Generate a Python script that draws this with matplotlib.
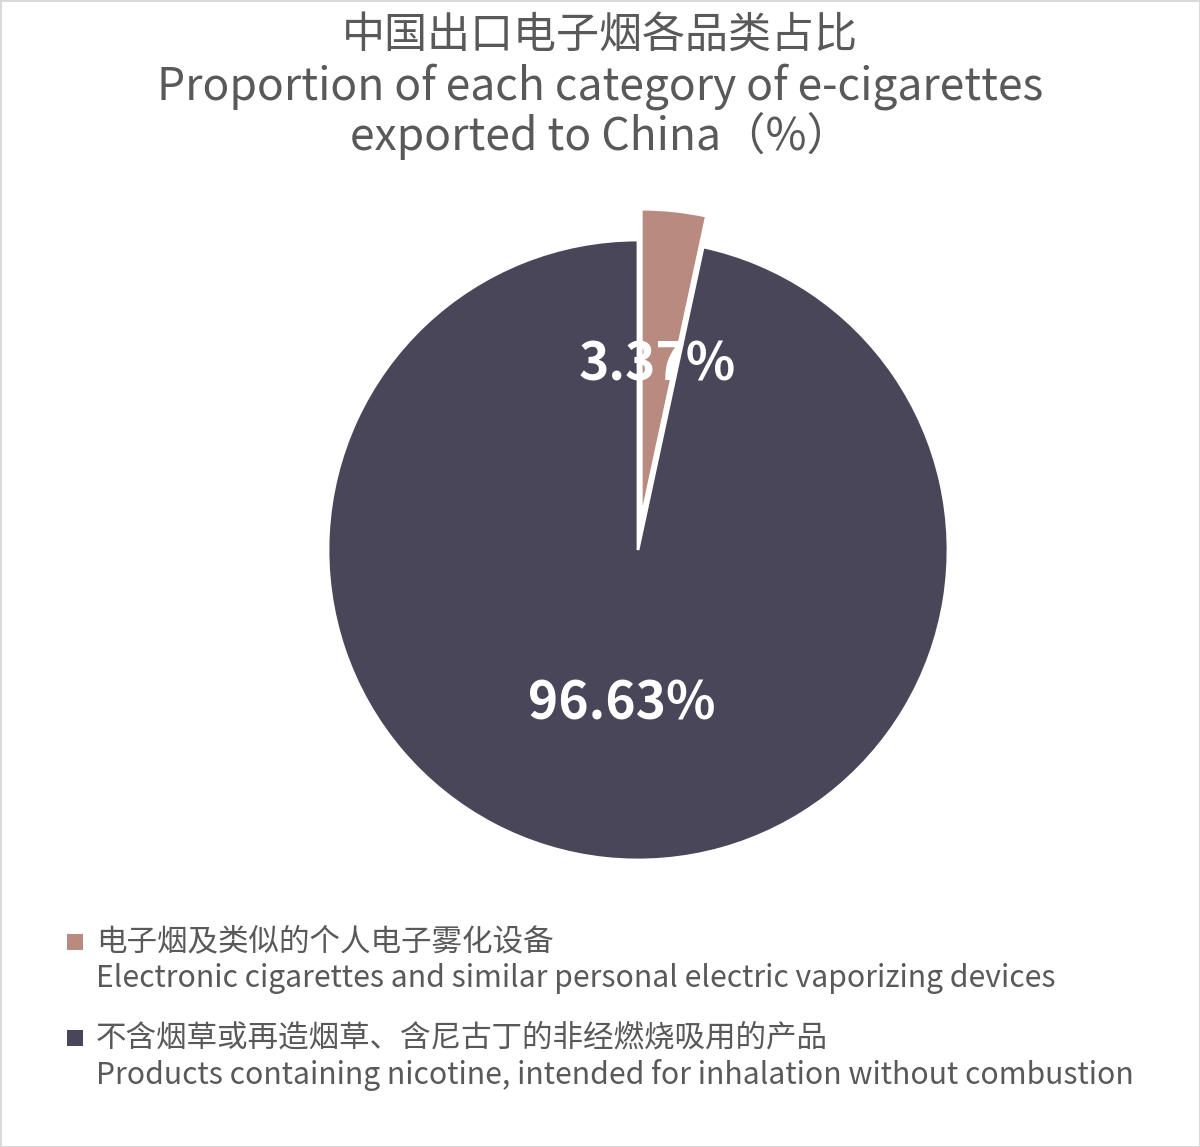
#!/usr/bin/env python3
"""
Proportion of each category of e-cigarettes exported (pie chart)
"""

import matplotlib
matplotlib.use("Agg")
import matplotlib.pyplot as plt
from matplotlib.patches import Rectangle

plt.rcParams['font.family'] = ['Noto Sans CJK SC', 'DejaVu Sans']

# data
categories_cn = ["电子烟及类似的个人电子雾化设备",
                 "不含烟草或再造烟草、含尼古丁的非经燃烧吸用的产品"]
categories_en = ["Electronic cigarettes and similar personal electric vaporizing devices",
                 "Products containing nicotine, intended for inhalation without combustion"]
shares = [3.37, 96.63]
colors = ['#B98A80', '#4A4659']
explode = [0.1, 0.0]

TEXT = '#595959'
W, H = 1200, 1147

fig = plt.figure(figsize=(W / 100, H / 100), dpi=100)
fig.patch.set_edgecolor('#D9D9D9')
fig.patch.set_linewidth(2)

# title
fig.text(0.5, 1 - 36 / H, '中国出口电子烟各品类占比', ha='center', va='center',
         fontsize=31, color=TEXT)
fig.text(0.5, 1 - 87 / H, 'Proportion of each category of e-cigarettes', ha='center',
         va='center', fontsize=32, color=TEXT)
fig.text(0.5, 1 - 136 / H, 'exported to China（%）', ha='center', va='center',
         fontsize=32, color=TEXT)

# pie
ax = fig.add_axes([266 / W, 225 / H, 744 / W, 744 / H])
wedges, texts, autotexts = ax.pie(
    shares, colors=colors, explode=explode, startangle=90, counterclock=False,
    autopct='%.2f%%', pctdistance=0.5,
    wedgeprops=dict(edgecolor='white', linewidth=2),
    textprops=dict(color='white', fontsize=37, fontweight='bold'))
ax.set_xlim(-1.2, 1.2)
ax.set_ylim(-1.2, 1.2)
ax.set_aspect('equal')
ax.axis('off')

# legend
rows_y = [942, 1038]
for cn, en, c, y in zip(categories_cn, categories_en, colors, rows_y):
    fig.patches.append(Rectangle((67 / W, 1 - (y + 8) / H), 16 / W, 16 / H,
                                 facecolor=c, edgecolor='none',
                                 transform=fig.transFigure, figure=fig))
    fig.text(96 / W, 1 - y / H, cn, ha='left', va='center', fontsize=22, color=TEXT)
    fig.text(96 / W, 1 - (y + 37) / H, en, ha='left', va='center', fontsize=21.7,
             color=TEXT)

fig.savefig('out.png', dpi=100)
